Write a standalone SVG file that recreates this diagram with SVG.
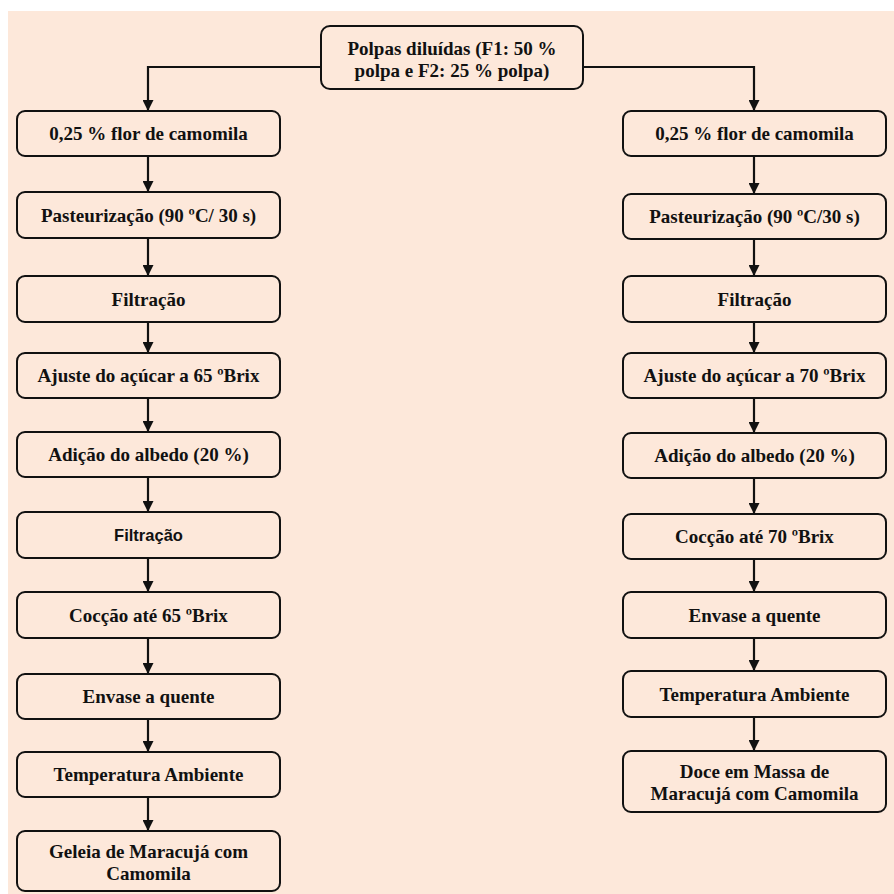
<svg xmlns="http://www.w3.org/2000/svg" width="894" height="894" viewBox="0 0 894 894">
<style>
.box{fill:none;stroke:#111;stroke-width:2}
.t{font-family:"Liberation Serif","Times New Roman",serif;font-weight:bold;font-size:19px;fill:#111;text-anchor:middle}
.s{font-family:"Liberation Sans",Arial,sans-serif;font-weight:bold;font-size:16.5px;fill:#111;text-anchor:middle}
.c{fill:none;stroke:#111;stroke-width:2.2}
</style>
<defs>
<marker id="ah" viewBox="0 0 10 10" refX="10" refY="5" markerWidth="12" markerHeight="11" markerUnits="userSpaceOnUse" orient="auto">
<path d="M0,0 L10,5 L0,10 z" fill="#111"/>
</marker>
</defs>
<rect x="0" y="0" width="894" height="894" fill="#fff"/>
<rect x="8" y="11" width="886" height="883" fill="#FDE8DA"/>

<g id="connectors">
<path class="c" d="M321,67 H148 V111" marker-end="url(#ah)"/>
<path class="c" d="M583,67 H754 V111" marker-end="url(#ah)"/>
<path class="c" d="M148,156 V192" marker-end="url(#ah)"/>
<path class="c" d="M148,238 V276" marker-end="url(#ah)"/>
<path class="c" d="M148,322 V353" marker-end="url(#ah)"/>
<path class="c" d="M148,398 V432" marker-end="url(#ah)"/>
<path class="c" d="M148,477 V512" marker-end="url(#ah)"/>
<path class="c" d="M148,558 V592" marker-end="url(#ah)"/>
<path class="c" d="M148,638 V674" marker-end="url(#ah)"/>
<path class="c" d="M148,719 V752" marker-end="url(#ah)"/>
<path class="c" d="M148,797 V831" marker-end="url(#ah)"/>
<path class="c" d="M754,156 V194" marker-end="url(#ah)"/>
<path class="c" d="M754,239 V276" marker-end="url(#ah)"/>
<path class="c" d="M754,322 V353" marker-end="url(#ah)"/>
<path class="c" d="M754,398 V433" marker-end="url(#ah)"/>
<path class="c" d="M754,478 V514" marker-end="url(#ah)"/>
<path class="c" d="M754,559 V592" marker-end="url(#ah)"/>
<path class="c" d="M754,638 V671" marker-end="url(#ah)"/>
<path class="c" d="M754,717 V751" marker-end="url(#ah)"/>
</g>

<g id="top">
<rect class="box" x="321" y="26" width="262" height="63" rx="9"/>
<text class="t" x="452" y="55">Polpas diluídas (F1: 50 %</text>
<text class="t" x="452" y="77">polpa e F2: 25 % polpa)</text>
</g>

<g id="L1"><rect class="box" x="17" y="111" width="263" height="45" rx="8"/><text class="t" x="148.5" y="140">0,25 % flor de camomila</text></g>
<g id="L2"><rect class="box" x="17" y="192" width="263" height="46" rx="8"/><text class="t" x="148.5" y="221.5">Pasteurização (90 ºC/ 30 s)</text></g>
<g id="L3"><rect class="box" x="17" y="276" width="263" height="46" rx="8"/><text class="t" x="148.5" y="305.5">Filtração</text></g>
<g id="L4"><rect class="box" x="17" y="353" width="263" height="45" rx="8"/><text class="t" x="148.5" y="382">Ajuste do açúcar a 65 ºBrix</text></g>
<g id="L5"><rect class="box" x="17" y="432" width="263" height="45" rx="8"/><text class="t" x="148.5" y="461">Adição do albedo (20 %)</text></g>
<g id="L6"><rect class="box" x="17" y="512" width="263" height="46" rx="8"/><text class="s" x="148.5" y="541">Filtração</text></g>
<g id="L7"><rect class="box" x="17" y="592" width="263" height="46" rx="8"/><text class="t" x="148.5" y="621.5">Cocção até 65 ºBrix</text></g>
<g id="L8"><rect class="box" x="17" y="674" width="263" height="45" rx="8"/><text class="t" x="148.5" y="703">Envase a quente</text></g>
<g id="L9"><rect class="box" x="17" y="752" width="263" height="45" rx="8"/><text class="t" x="148.5" y="781">Temperatura Ambiente</text></g>
<g id="L10"><rect class="box" x="17" y="831" width="263" height="60" rx="8"/><text class="t" x="148.5" y="857.5">Geleia de Maracujá com</text><text class="t" x="148.5" y="880">Camomila</text></g>

<g id="R1"><rect class="box" x="623" y="111" width="263" height="45" rx="8"/><text class="t" x="754.5" y="140">0,25 % flor de camomila</text></g>
<g id="R2"><rect class="box" x="623" y="194" width="263" height="45" rx="8"/><text class="t" x="754.5" y="223">Pasteurização (90 ºC/30 s)</text></g>
<g id="R3"><rect class="box" x="623" y="276" width="263" height="46" rx="8"/><text class="t" x="754.5" y="305.5">Filtração</text></g>
<g id="R4"><rect class="box" x="623" y="353" width="263" height="45" rx="8"/><text class="t" x="754.5" y="382">Ajuste do açúcar a 70 ºBrix</text></g>
<g id="R5"><rect class="box" x="623" y="433" width="263" height="45" rx="8"/><text class="t" x="754.5" y="462">Adição do albedo (20 %)</text></g>
<g id="R6"><rect class="box" x="623" y="514" width="263" height="45" rx="8"/><text class="t" x="754.5" y="543">Cocção até 70 ºBrix</text></g>
<g id="R7"><rect class="box" x="623" y="592" width="263" height="46" rx="8"/><text class="t" x="754.5" y="621.5">Envase a quente</text></g>
<g id="R8"><rect class="box" x="623" y="671" width="263" height="46" rx="8"/><text class="t" x="754.5" y="700.5">Temperatura Ambiente</text></g>
<g id="R9"><rect class="box" x="623" y="751" width="263" height="61" rx="8"/><text class="t" x="754.5" y="777.5">Doce em Massa de</text><text class="t" x="754.5" y="800">Maracujá com Camomila</text></g>
</svg>
